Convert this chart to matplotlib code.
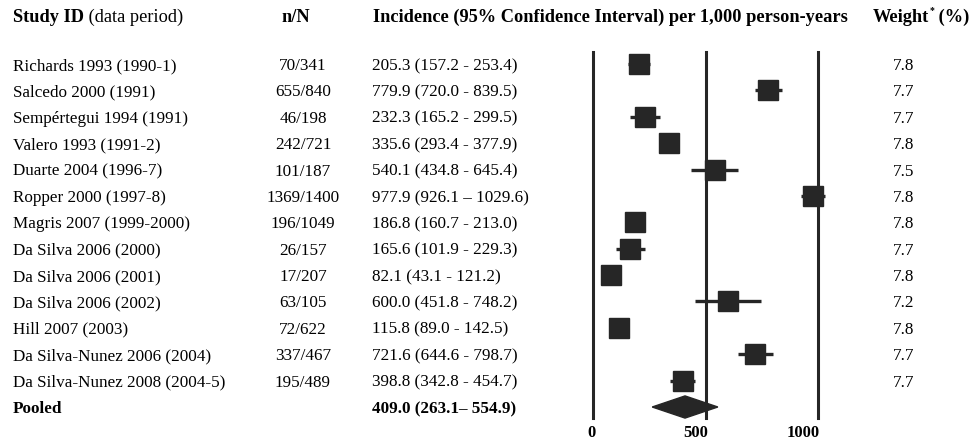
import matplotlib
matplotlib.use('Agg')
import matplotlib.pyplot as plt
from matplotlib.transforms import blended_transform_factory, ScaledTranslation
from matplotlib.patches import Polygon

plt.rcParams['font.family'] = ['Liberation Serif', 'DejaVu Serif']

studies = ['Richards 1993 (1990-1)', 'Salcedo 2000 (1991)', 'Sempértegui 1994 (1991)',
           'Valero 1993 (1991-2)', 'Duarte 2004 (1996-7)', 'Ropper 2000 (1997-8)',
           'Magris 2007 (1999-2000)', 'Da Silva 2006 (2000)', 'Da Silva 2006 (2001)',
           'Da Silva 2006 (2002)', 'Hill 2007 (2003)', 'Da Silva-Nunez 2006 (2004)',
           'Da Silva-Nunez 2008 (2004-5)']
n_over_N = ['70/341', '655/840', '46/198', '242/721', '101/187', '1369/1400', '196/1049',
            '26/157', '17/207', '63/105', '72/622', '337/467', '195/489']
est = [205.3, 779.9, 232.3, 335.6, 540.1, 977.9, 186.8, 165.6, 82.1, 600.0, 115.8, 721.6, 398.8]
lo = [157.2, 720.0, 165.2, 293.4, 434.8, 926.1, 160.7, 101.9, 43.1, 451.8, 89.0, 644.6, 342.8]
hi = [253.4, 839.5, 299.5, 377.9, 645.4, 1029.6, 213.0, 229.3, 121.2, 748.2, 142.5, 798.7, 454.7]
seps = [' - ', ' - ', ' - ', ' - ', ' - ', ' \u2013 ', ' - ', ' - ', ' - ', ' - ', ' - ', ' - ', ' - ']
weights = [7.8, 7.7, 7.7, 7.8, 7.5, 7.8, 7.8, 7.7, 7.8, 7.2, 7.8, 7.7, 7.7]
pooled_est, pooled_lo, pooled_hi = 409.0, 263.1, 554.9
ref_lines = [0, 500, 1000]

W, H = 974, 440
fig = plt.figure(figsize=(W / 100, H / 100), dpi=100)
# forest panel: x 0..1000 maps to px 593..818, lines span px 52..418
row_h = (407 - 64) / 13
top_row = -(64 - 52) / row_h
bot_row = 13 + (418 - 407) / row_h
ax = fig.add_axes([593 / W, 1 - 418 / H, (818 - 593) / W, (418 - 52) / H])
ax.set_xlim(0, 1000)
ax.set_ylim(bot_row, top_row)
for s in ax.spines.values():
    s.set_visible(False)
ax.set_yticks([])

dark = '#262626'
for v in ref_lines:
    ax.axvline(v, color=dark, lw=2.2, zorder=1, clip_on=False)

n = len(studies)
rows = list(range(n))
ax.hlines(rows, lo, hi, color=dark, lw=2.4, zorder=2, clip_on=False)
ax.plot(est, rows, 's', color=dark, markersize=14.5, zorder=3, clip_on=False)

dh = 0.42
diamond = Polygon([(pooled_lo, n), (pooled_est, n - dh), (pooled_hi, n), (pooled_est, n + dh)],
                  closed=True, color=dark, zorder=3, clip_on=False)
ax.add_patch(diamond)

ax.set_xticks(ref_lines)
ax.set_xticklabels([str(v) for v in ref_lines], fontsize=12, fontweight='bold')
ax.tick_params(axis='x', length=0, pad=5)
shifts = [-2, -10, -15]
for lab, dx in zip(ax.get_xticklabels(), shifts):
    lab.set_transform(lab.get_transform() + ScaledTranslation(dx / 100, 0, fig.dpi_scale_trans))

# row text sits ~2px below the marker centres
tr = blended_transform_factory(fig.transFigure, ax.transData) + \
    ScaledTranslation(0, -2 / 100, fig.dpi_scale_trans)
x_study = 13 / W
x_nN = 303 / W
x_inc = 372 / W
x_w = 904 / W
fs = 12.3

for i in rows:
    ax.text(x_study, i, studies[i], transform=tr, fontsize=fs, ha='left', va='center')
    ax.text(x_nN, i, n_over_N[i], transform=tr, fontsize=fs, ha='center', va='center')
    ax.text(x_inc, i, f'{est[i]:.1f} ({lo[i]:.1f}{seps[i]}{hi[i]:.1f})', transform=tr,
            fontsize=fs, ha='left', va='center')
    ax.text(x_w, i, f'{weights[i]:.1f}', transform=tr, fontsize=fs, ha='center', va='center')

ax.text(x_study, n, 'Pooled', transform=tr, fontsize=fs, fontweight='bold', ha='left', va='center')
ax.text(x_inc, n, f'{pooled_est:.1f} ({pooled_lo:.1f}\u2013 {pooled_hi:.1f})', transform=tr,
        fontsize=fs, fontweight='bold', ha='left', va='center')

# headers
hfs = 13.2
hy = 1 - 17 / H
t1 = fig.text(x_study, hy, 'Study ID', fontsize=hfs, fontweight='bold', ha='left', va='center')
ax.annotate(' (data period)', xy=(1, 0), xycoords=t1, fontsize=hfs, ha='left', va='bottom',
            annotation_clip=False)
fig.text(296 / W, hy, 'n/N', fontsize=hfs, fontweight='bold', ha='center', va='center')
fig.text(373 / W, hy, 'Incidence (95% Confidence Interval) per 1,000 person-years',
         fontsize=hfs, fontweight='bold', ha='left', va='center')
t2 = fig.text(873 / W, hy, 'Weight', fontsize=hfs, fontweight='bold', ha='left', va='center')
t3 = ax.annotate('*', xy=(1, 0.6), xycoords=t2, fontsize=7, fontweight='bold', ha='left',
                 va='bottom', annotation_clip=False)
ax.annotate(' (%)', xy=(1, 0), xycoords=(t3, t2), fontsize=hfs, fontweight='bold', ha='left',
            va='bottom', annotation_clip=False)

fig.savefig('out.png', dpi=100)
